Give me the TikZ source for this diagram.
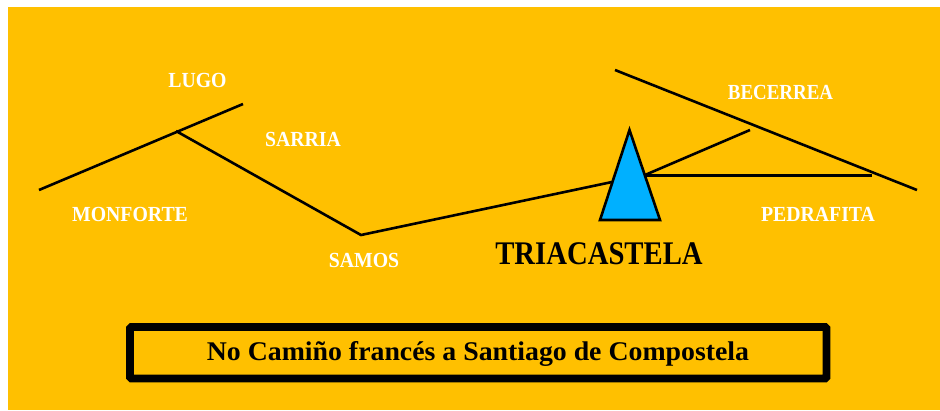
\documentclass[tikz,border=0pt]{standalone}
\usepackage{fontspec}
\setmainfont[FakeStretch=1.03]{Liberation Serif}
\newfontfamily\labelfont[FakeStretch=0.92]{Liberation Serif}
\newfontfamily\titlefont[FakeStretch=0.87]{Liberation Serif}
\definecolor{bgorange}{RGB}{255,192,0}
\definecolor{peakblue}{RGB}{0,176,255}
\tikzset{
  route/.style={draw=black,line width=2.6pt},
  place/.style={text=white,font=\labelfont\bfseries\fontsize{21.5}{24}\selectfont,inner sep=0pt,anchor=center},
}
\begin{document}
\begin{tikzpicture}[x=1pt,y=-1pt]
\useasboundingbox (0,0) rectangle (940,410);
\fill[white] (0,0) rectangle (940,410);
\fill[bgorange] (8,7) rectangle (940,410);
% route points
\coordinate (monforte) at (39,190);
\coordinate (lugoend) at (243,104);
\coordinate (lugojct) at (176,131);
\coordinate (samos) at (361,235);
\coordinate (peakW) at (612,182);
\coordinate (peakE) at (645,175);
\coordinate (becjct) at (750,130);
\coordinate (pedjct) at (872,175);
\coordinate (becA) at (615,70);
\coordinate (becB) at (917,190);
\coordinate (apex) at (629.5,130);
\coordinate (baseL) at (600,220);
\coordinate (baseR) at (660,220);
\draw[route] (monforte) -- (lugoend);
\draw[route] (lugojct) -- (samos) -- (peakW);
\draw[route] (peakE) -- (becjct);
\draw[route,line width=3pt] (peakE) -- (pedjct);
\draw[route] (becA) -- (becB);
\draw[fill=peakblue,draw=black,line width=2.6pt,line join=miter] (apex) -- (baseR) -- (baseL) -- cycle;
% labels
\node[place] (lugo) at (197.5,80.5) {LUGO};
\node[place] (sarria) at (303,139) {SARRIA};
\node[place] (monfortelbl) at (130,214.5) {MONFORTE};
\node[place] (samoslbl) at (364,260) {SAMOS};
\node[place] (becerrea) at (780.5,92.5) {\addfontfeature{FakeStretch=0.88}BECERREA};
\node[place] (pedrafita) at (818,214.5) {PEDRAFITA};
\node[inner sep=0pt,text=black,font=\titlefont\bfseries\fontsize{33}{36}\selectfont] (tria) at (599,254) {TRIACASTELA};
% caption frame
\node[draw=black,line width=7.8pt,rounded corners=1.5pt,minimum width=696.5pt,minimum height=51.5pt,inner sep=0pt] (captionframe) at (478.25,352.75) {};
\node[inner sep=0pt,font=\bfseries\fontsize{27}{30}\selectfont] (caption) at (478,354) {No Camiño francés a Santiago de Compostela};
\end{tikzpicture}
\end{document}
